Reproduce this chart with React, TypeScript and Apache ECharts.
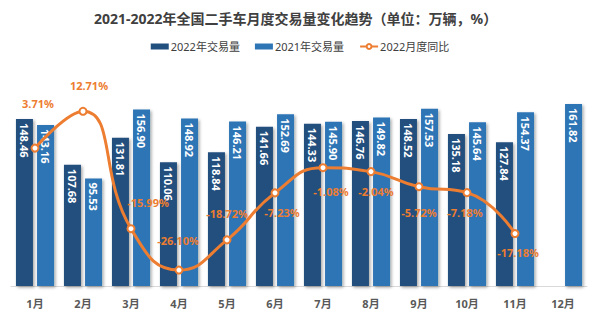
import React, { useEffect, useRef } from "react";
import * as echarts from "echarts";

const months = ["1月", "2月", "3月", "4月", "5月", "6月", "7月", "8月", "9月", "10月", "11月", "12月"];
const vol2022 = [148.46, 107.68, 131.81, 110.06, 118.84, 141.66, 144.33, 146.76, 148.52, 135.18, 127.84, null];
const vol2021 = [143.16, 95.53, 156.9, 148.92, 146.21, 152.69, 145.9, 149.82, 157.53, 145.64, 154.37, 161.82];
const yoy2022 = [3.71, 12.71, -15.99, -26.1, -18.72, -7.23, -1.08, -2.04, -5.72, -7.18, -17.18];

// label offsets (layout only)
const yoyLabelOffsets = [
  [3, -45], [6, -26], [17, -26], [-1, -30], [0, -26], [7, 20],
  [8, 24], [5, 20], [0, 26], [-2, 20], [3, 19],
];

const FONT = "'Noto Sans', 'Noto Sans CJK SC', sans-serif";

export default function App() {
  const ref = useRef<HTMLDivElement>(null);
  useEffect(() => {
    if (!ref.current) return;
    const chart = echarts.init(ref.current, null, { renderer: "svg" });
    const barLabel = {
      show: true,
      position: "insideTop",
      rotate: -90,
      align: "left",
      verticalAlign: "middle",
      distance: 4,
      color: "#ffffff",
      fontWeight: "bold",
      fontSize: 11,
      fontFamily: FONT,
      formatter: (p: any) => Number(p.value).toFixed(2),
    };
    const barShadow = {
      shadowColor: "rgba(0,0,0,0.35)",
      shadowBlur: 3,
      shadowOffsetX: 1.5,
      shadowOffsetY: 1.5,
    };
    chart.setOption({
      animation: false,
      textStyle: { fontFamily: FONT },
      title: {
        text: "2021-2022年全国二手车月度交易量变化趋势（单位：万辆，%）",
        left: 94,
        top: 11,
        padding: 0,
        textStyle: { fontSize: 14, fontWeight: "bold", color: "#404040", fontFamily: FONT },
      },
      legend: {
        left: "center",
        top: 41,
        padding: 0,
        itemGap: 15,
        itemWidth: 18,
        itemHeight: 6,
        textStyle: { fontSize: 11, color: "#404040", fontFamily: FONT, padding: [0, 0, 0, -3] },
        data: [
          { name: "2022年交易量", icon: "rect" },
          { name: "2021年交易量", icon: "rect" },
          { name: "2022月度同比" },
        ],
      },
      grid: { left: 11, right: 13, top: 61, bottom: 40, containLabel: false },
      xAxis: {
        type: "category",
        data: months,
        axisLine: { lineStyle: { color: "#D9D9D9", width: 1 } },
        axisTick: { show: false },
        axisLabel: { color: "#595959", fontWeight: "bold", fontSize: 11, margin: 12, fontFamily: FONT },
      },
      yAxis: [
        { type: "value", min: 0, max: 200, show: false, splitLine: { show: false } },
        { type: "value", min: -30, max: 25, show: false, splitLine: { show: false } },
      ],
      series: [
        {
          name: "2022年交易量",
          type: "bar",
          data: vol2022,
          barWidth: 17,
          barGap: "24%",
          itemStyle: { color: "#214F7E", ...barShadow },
          label: barLabel,
        },
        {
          name: "2021年交易量",
          type: "bar",
          data: vol2021,
          barWidth: 17,
          itemStyle: { color: "#2E75B6", ...barShadow },
          label: barLabel,
        },
        {
          name: "2022月度同比",
          type: "line",
          yAxisIndex: 1,
          smooth: 0.5,
          z: 5,
          symbol: "circle",
          symbolSize: 7,
          lineStyle: { color: "#ED7D31", width: 3 },
          itemStyle: { color: "#ffffff", borderColor: "#ED7D31", borderWidth: 2 },
          data: yoy2022.map((v, i) => ({
            value: v,
            label: {
              show: true,
              position: "inside",
              offset: yoyLabelOffsets[i],
              formatter: (p: any) => Number(p.value).toFixed(2) + "%",
              color: "#ED7D31",
              fontWeight: "bold",
              fontSize: 11,
              fontFamily: FONT,
            },
          })),
        },
      ],
    });
    return () => chart.dispose();
  }, []);
  return <div ref={ref} style={{ width: 600, height: 326, position: "absolute", left: 0, top: 0 }} />;
}
